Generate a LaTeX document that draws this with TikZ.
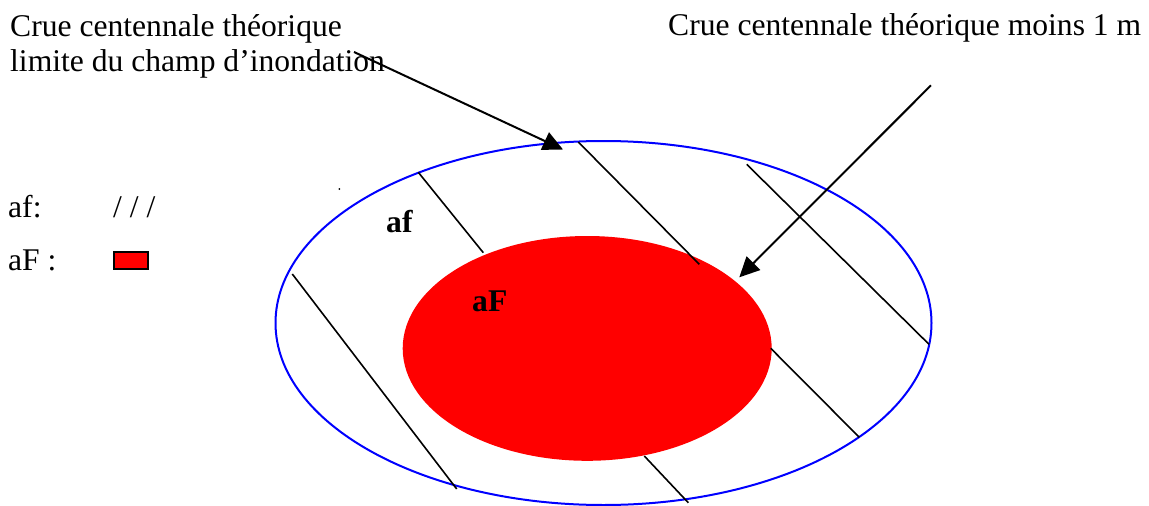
\documentclass[tikz,border=0pt]{standalone}
\usepackage{fontspec}
\setmainfont{Liberation Serif}
\usetikzlibrary{shapes.geometric,arrows.meta}
\begin{document}
\begin{tikzpicture}[x=1pt,y=-1pt,
  txt/.style={anchor=base west,inner sep=0pt,font=\fontsize{31.6}{36}\selectfont},
  lbl/.style={txt,font=\fontsize{31.6}{36}\selectfont\bfseries},
  hatch/.style={line width=1.6pt,black},
  pointer/.style={line width=2pt,black,-{Triangle[length=20pt,width=19pt]}}]
\useasboundingbox (0,0) rectangle (1149,506);
% zones
\node[ellipse,fill=red,inner sep=0pt,minimum width=369pt,minimum height=224.8pt] (aFzone) at (587.2,348.4) {};
\node[ellipse,draw=blue,line width=2pt,inner sep=0pt,minimum width=656pt,minimum height=364pt] (afzone) at (603.5,323) {};
% hatching
\draw[hatch] (418.3,172.3) -- (483.3,252.7);
\draw[hatch] (578.3,142) -- (699.3,264.3);
\draw[hatch] (746.7,164.3) -- (929,344.3);
\draw[hatch] (292.3,274) -- (456.7,489);
\draw[hatch] (770.7,348.3) -- (859.3,437.3);
\draw[hatch] (644.3,456) -- (688.3,502.7);
% texts
\node[txt] (t1) at (10,36) {Crue centennale théorique};
\node[txt] (t2) at (10,71.7) {limite du champ d’inondation};
\node[txt] (t3) at (668,35) {Crue centennale théorique moins 1 m};
\node[txt] (k1) at (8,217.7) {af:};
\node[txt] (k1s) at (113,217.7) {/ / /};
\node[txt] (k2) at (8,270) {aF :};
\node[draw=black,fill=red,line width=1.5pt,inner sep=0pt,minimum width=34pt,minimum height=17pt] (k2s) at (131,260.5) {};
\node[lbl] (laf) at (386,232) {af};
\node[lbl] (laF) at (472,311) {aF};
\fill[black] (339.3,189) circle (1pt);
% pointers
\coordinate (s1) at (354,52);
\coordinate (e1) at (563,149.5);
\coordinate (s2) at (931,85.3);
\coordinate (e2) at (739.3,277.3);
\draw[pointer] (s1) -- (e1);
\draw[pointer] (s2) -- (e2);
\end{tikzpicture}
\end{document}
